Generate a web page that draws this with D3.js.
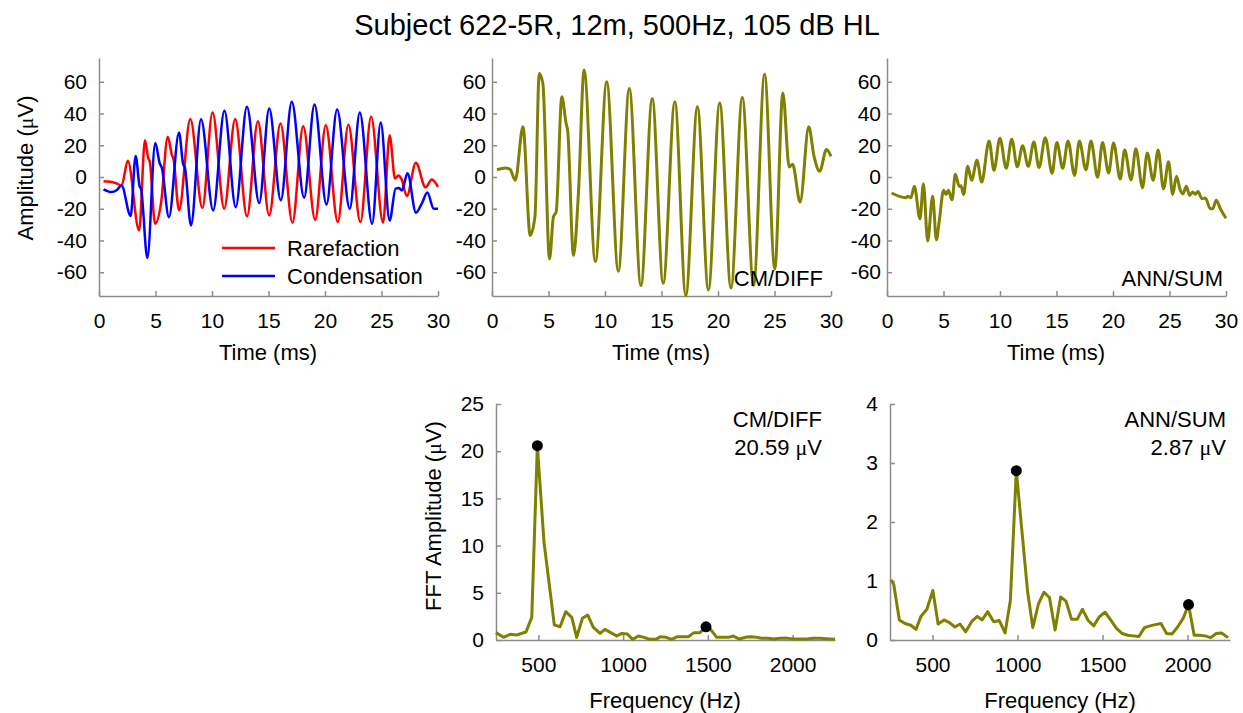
<!doctype html>
<html>
<head>
<meta charset="utf-8">
<script src="https://d3js.org/d3.v7.min.js"></script>
<style>
  body { margin: 0; background: #fff; }
  text { font-family: "Liberation Sans", Arial, sans-serif; fill: #000; }
  .axis path, .axis line { stroke: #8c8c8c; stroke-width: 1.5; }
  .axis text { font-size: 21px; }
</style>
</head>
<body>
<svg id="chart" width="1243" height="713"></svg>
<script>
// ---- data (time in ms, amplitude in uV) ----
var rarefaction = [[0.4,-2.7],[1.4,-3.6],[2.0,-5.3],[2.55,10.3],[3.55,-33.7],[4.07,23.2],[4.35,12],[4.5,9.5],[4.96,-29.5],[5.5,-16],[6.08,25.3],[6.45,14],[6.6,11],[7.08,-21],[8.08,36.6],[9.15,-19.5],[10.05,40.6],[11.08,-20],[12.05,36.6],[13.1,-24.8],[14.06,35.2],[15.06,-24.2],[16.06,33.7],[17.12,-28.8],[18.07,32],[19.13,-27],[20.07,32.6],[21.13,-28.4],[22.07,33],[23.13,-28.4],[24.08,37.9],[25.14,-28.8],[25.72,26.3],[26.2,-1],[26.48,0.9],[26.78,-1.5],[27.24,-12],[28.04,9],[28.9,-6.5],[29.45,-1.5],[30,-6.2]];

var condensation = [[0.4,-7.8],[1.1,-9.5],[1.55,-8.4],[2.0,-5.3],[2.8,-24.6],[3.24,13.3],[3.6,-6],[3.72,-7.5],[4.28,-51],[4.98,21.5],[5.38,8.5],[5.55,6],[6.19,-25.3],[7.08,28],[7.45,8],[7.6,6],[8.14,-30.5],[9.03,36.4],[10.1,-21],[11.1,41.7],[12.1,-19],[13.09,44.2],[14.18,-16.4],[15.06,43.2],[16.09,-14.7],[17.06,47.4],[18.15,-13],[19.07,45.7],[20.13,-17.3],[21.07,42.5],[22.19,-20],[23.08,40.6],[24.17,-29.5],[24.93,34.3],[25.72,-27.4],[26.25,-7.3],[26.55,-7],[26.8,-8.5],[27.3,2.3],[28.05,-22.5],[28.55,-17],[29.06,-9.8],[29.62,-20],[30,-20]];

var cmDiff = [[0.44,4.6],[1.18,5.7],[1.6,4.8],[2.06,-2.1],[2.74,31.6],[3.38,-36.8],[3.8,-25],[4.18,65.3],[4.5,59],[5.09,-51.6],[5.44,-25],[5.68,-22],[6.18,50.5],[6.56,33.7],[6.7,29],[7.21,-49.5],[7.65,-10],[8.15,67.4],[9.15,-53.3],[10.15,60],[11.18,-59.4],[12.15,55.8],[13.18,-68.4],[14.18,49.5],[15.15,-67],[16.18,47.4],[17.15,-74.7],[18.18,44.2],[19.15,-71.2],[20.15,46.7],[21.15,-70],[22.15,50.1],[23.15,-68.4],[24.12,64.8],[25.03,-58],[25.74,53],[26.3,6.3],[26.6,8],[27.27,-15.8],[28.03,31.6],[28.5,13],[29.0,3.6],[29.6,17.3],[30,13]];

var annSum = [[0.41,-10.1],[1.09,-12.2],[1.68,-13],[1.83,-12.2],[2.12,-13],[2.42,-5.9],[2.92,-26.3],[3.22,-4.2],[3.6,-40.4],[4.04,-12.2],[4.37,-39.6],[4.63,-27.4],[5.01,-8.4],[5.22,-11],[5.43,-8.4],[5.75,-14.3],[6.05,1.7],[6.4,-6],[6.55,-5.5],[6.78,-11],[7.14,6.7],[7.49,-2.1],[7.96,10.5],[8.38,-3.2],[9.03,22.7],[9.47,4.2],[9.99,24.5],[10.55,5.5],[11.04,23.8],[11.53,6.5],[12.0,19.7],[12.5,6.7],[13.0,22],[13.45,6],[14.01,24.7],[14.61,2.3],[15.03,21.8],[15.55,5.5],[16.02,22.7],[16.6,1],[17.02,22.7],[17.61,4.5],[18.05,22.7],[18.64,-0.2],[19.07,21.8],[19.61,2.6],[20.05,21.5],[20.64,-1.3],[21.03,17],[21.6,-1.8],[22.02,17.8],[22.61,-6.7],[23.03,15.2],[23.56,-2.1],[23.99,17],[24.47,-7.4],[24.92,9.6],[25.28,-11],[25.62,0.4],[25.96,-8.4],[26.19,-10.5],[26.49,-5.9],[26.78,-11.6],[27.05,-9.5],[27.28,-10.9],[27.52,-9.1],[27.87,-13.7],[28.17,-13.3],[28.61,-20],[28.82,-20],[29.14,-14.7],[29.5,-20],[30,-26]];

// FFT spectra (Hz, uV)
var cmFreq = [250,294,333,372,427,461,494,533,594,628,661,697,726,760,791,824,864,893,927,962,992,1025,1056,1090,1123,1159,1192,1221,1253,1286,1320,1355,1385,1418,1453,1489,1516,1552,1587,1621,1650,1686,1719,1752,1788,1817,1857,1886,1925,1965,2000,2043,2083,2122,2161,2200,2250];
var cmAmp  = [0.78,0.28,0.6,0.53,0.85,2.4,20.6,10.4,1.6,1.4,3.0,2.4,0.28,2.3,2.65,1.34,0.7,1.13,0.78,0.42,0.7,0.64,0.07,0.42,0.28,0.07,0.07,0.35,0.28,0.07,0.35,0.35,0.35,0.78,0.78,1.4,1.13,0.28,0.28,0.28,0.42,0.1,0.28,0.35,0.28,0.18,0.18,0.1,0.18,0.2,0.1,0.1,0.1,0.18,0.18,0.14,0.07];
var annFreq = [256,272,305,338,373,403,432,467,502,533,568,597,632,662,695,730,763,792,825,860,893,927,958,993,1026,1059,1090,1123,1156,1188,1221,1254,1285,1318,1351,1382,1416,1449,1480,1515,1546,1581,1616,1649,1679,1714,1747,1780,1811,1844,1877,1908,1942,1975,2006,2039,2072,2103,2136,2169,2200,2239];
var annAmp  = [1.02,0.94,0.34,0.28,0.25,0.18,0.4,0.52,0.84,0.27,0.34,0.3,0.22,0.27,0.14,0.31,0.4,0.34,0.48,0.31,0.33,0.12,0.67,2.87,1.85,0.83,0.21,0.61,0.81,0.72,0.17,0.73,0.66,0.35,0.35,0.52,0.33,0.24,0.39,0.47,0.35,0.2,0.11,0.08,0.07,0.06,0.21,0.24,0.26,0.28,0.11,0.1,0.22,0.37,0.6,0.08,0.08,0.07,0.04,0.11,0.12,0.04];
var cmPeaks  = [[494,20.59],[1489,1.4]];
var annPeaks = [[993,2.87],[2006,0.6]];

var timeTicks = [0,5,10,15,20,25,30];
var ampTicks = [-60,-40,-20,0,20,40,60];
var freqTicks = [500,1000,1500,2000];

var olive = "#808000";
var svg = d3.select("#chart");

svg.append("text").attr("x", 617).attr("y", 35).attr("text-anchor", "middle")
  .style("font-size", "29px").text("Subject 622-5R, 12m, 500Hz, 105 dB HL");

function mu(sel, before, after) {
  sel.append("tspan").text(before);
  sel.append("tspan").style("font-family", "'Liberation Serif', serif").text("\u03bc");
  sel.append("tspan").text(after);
}

var plain = function(d) { return String(d); };

// one panel: axes with inward ticks
function panel(x0, x1, y0, y1, xdom, ydom, xt, yt, gap) {
  var x = d3.scaleLinear().domain(xdom).range([x0, x1]);
  var y = d3.scaleLinear().domain(ydom).range([y1, y0]);
  svg.append("g").attr("class", "axis").attr("transform", "translate(0," + y1 + ")")
    .call(d3.axisBottom(x).tickValues(xt).tickFormat(plain).tickSizeInner(-5).tickSizeOuter(0).tickPadding(17));
  svg.append("g").attr("class", "axis").attr("transform", "translate(" + x0 + ",0)")
    .call(d3.axisLeft(y).tickValues(yt).tickFormat(plain).tickSizeInner(-5).tickSizeOuter(0).tickPadding(gap));
  return {x: x, y: y};
}

function wave(p, data, color, w) {
  svg.append("path").datum(data)
    .attr("fill", "none").attr("stroke", color).attr("stroke-width", w)
    .attr("stroke-linejoin", "round")
    .attr("d", d3.line().curve(d3.curveMonotoneX)
      .x(function(d) { return p.x(d[0]); }).y(function(d) { return p.y(d[1]); }));
}

// top row
var p1 = panel(99, 438, 58, 296, [0, 30], [-75, 75], timeTicks, ampTicks, 12);
var p2 = panel(492, 831, 58, 296, [0, 30], [-75, 75], timeTicks, ampTicks, 6);
var p3 = panel(887, 1226, 58, 296, [0, 30], [-75, 75], timeTicks, ampTicks, 6);

wave(p1, rarefaction, "#ff0000", 2.5);
wave(p1, condensation, "#0000ff", 2.5);
wave(p2, cmDiff, olive, 3);
wave(p3, annSum, olive, 3);

[268, 661, 1056].forEach(function(cx) {
  svg.append("text").attr("x", cx).attr("y", 360).attr("text-anchor", "middle")
    .style("font-size", "22px").text("Time (ms)");
});
svg.append("text").attr("transform", "translate(33,168) rotate(-90)").attr("text-anchor", "middle")
  .style("font-size", "22px").call(mu, "Amplitude (", "V)");

// legend
[["Rarefaction", "#ff0000", 248], ["Condensation", "#0000ff", 276]].forEach(function(l) {
  svg.append("line").attr("x1", 222).attr("x2", 275).attr("y1", l[2]).attr("y2", l[2])
    .attr("stroke", l[1]).attr("stroke-width", 2.5);
  svg.append("text").attr("x", 287).attr("y", l[2] + 8).style("font-size", "22px").text(l[0]);
});

svg.append("text").attr("x", 823).attr("y", 286).attr("text-anchor", "end").style("font-size", "22px").text("CM/DIFF");
svg.append("text").attr("x", 1223).attr("y", 286).attr("text-anchor", "end").style("font-size", "22px").text("ANN/SUM");

// bottom row: FFT
var p4 = panel(496, 835, 404, 640, [250, 2250], [0, 25], freqTicks, [0,5,10,15,20,25], 12);
var p5 = panel(890, 1230, 404, 640, [250, 2250], [0, 4], freqTicks, [0,1,2,3,4], 12);

function spectrum(p, f, a, peaks) {
  var pts = f.map(function(v, i) { return [v, a[i]]; });
  svg.append("path").datum(pts)
    .attr("fill", "none").attr("stroke", olive).attr("stroke-width", 3).attr("stroke-linejoin", "round")
    .attr("d", d3.line().x(function(d) { return p.x(d[0]); }).y(function(d) { return p.y(d[1]); }));
  svg.selectAll(null).data(peaks).enter().append("circle")
    .attr("cx", function(d) { return p.x(d[0]); }).attr("cy", function(d) { return p.y(d[1]); })
    .attr("r", 5.5).attr("fill", "#000");
}
spectrum(p4, cmFreq, cmAmp, cmPeaks);
spectrum(p5, annFreq, annAmp, annPeaks);

svg.append("text").attr("x", 665).attr("y", 708).attr("text-anchor", "middle").style("font-size", "22px").text("Frequency (Hz)");
svg.append("text").attr("x", 1060).attr("y", 708).attr("text-anchor", "middle").style("font-size", "22px").text("Frequency (Hz)");
svg.append("text").attr("transform", "translate(441,516) rotate(-90)").attr("text-anchor", "middle")
  .style("font-size", "22px").call(mu, "FFT Amplitude (", "V)");

svg.append("text").attr("x", 822).attr("y", 427).attr("text-anchor", "end").style("font-size", "22px").text("CM/DIFF");
svg.append("text").attr("x", 822).attr("y", 455).attr("text-anchor", "end").style("font-size", "22px").call(mu, "20.59 ", "V");
svg.append("text").attr("x", 1226).attr("y", 427).attr("text-anchor", "end").style("font-size", "22px").text("ANN/SUM");
svg.append("text").attr("x", 1226).attr("y", 455).attr("text-anchor", "end").style("font-size", "22px").call(mu, "2.87 ", "V");
</script>
</body>
</html>
